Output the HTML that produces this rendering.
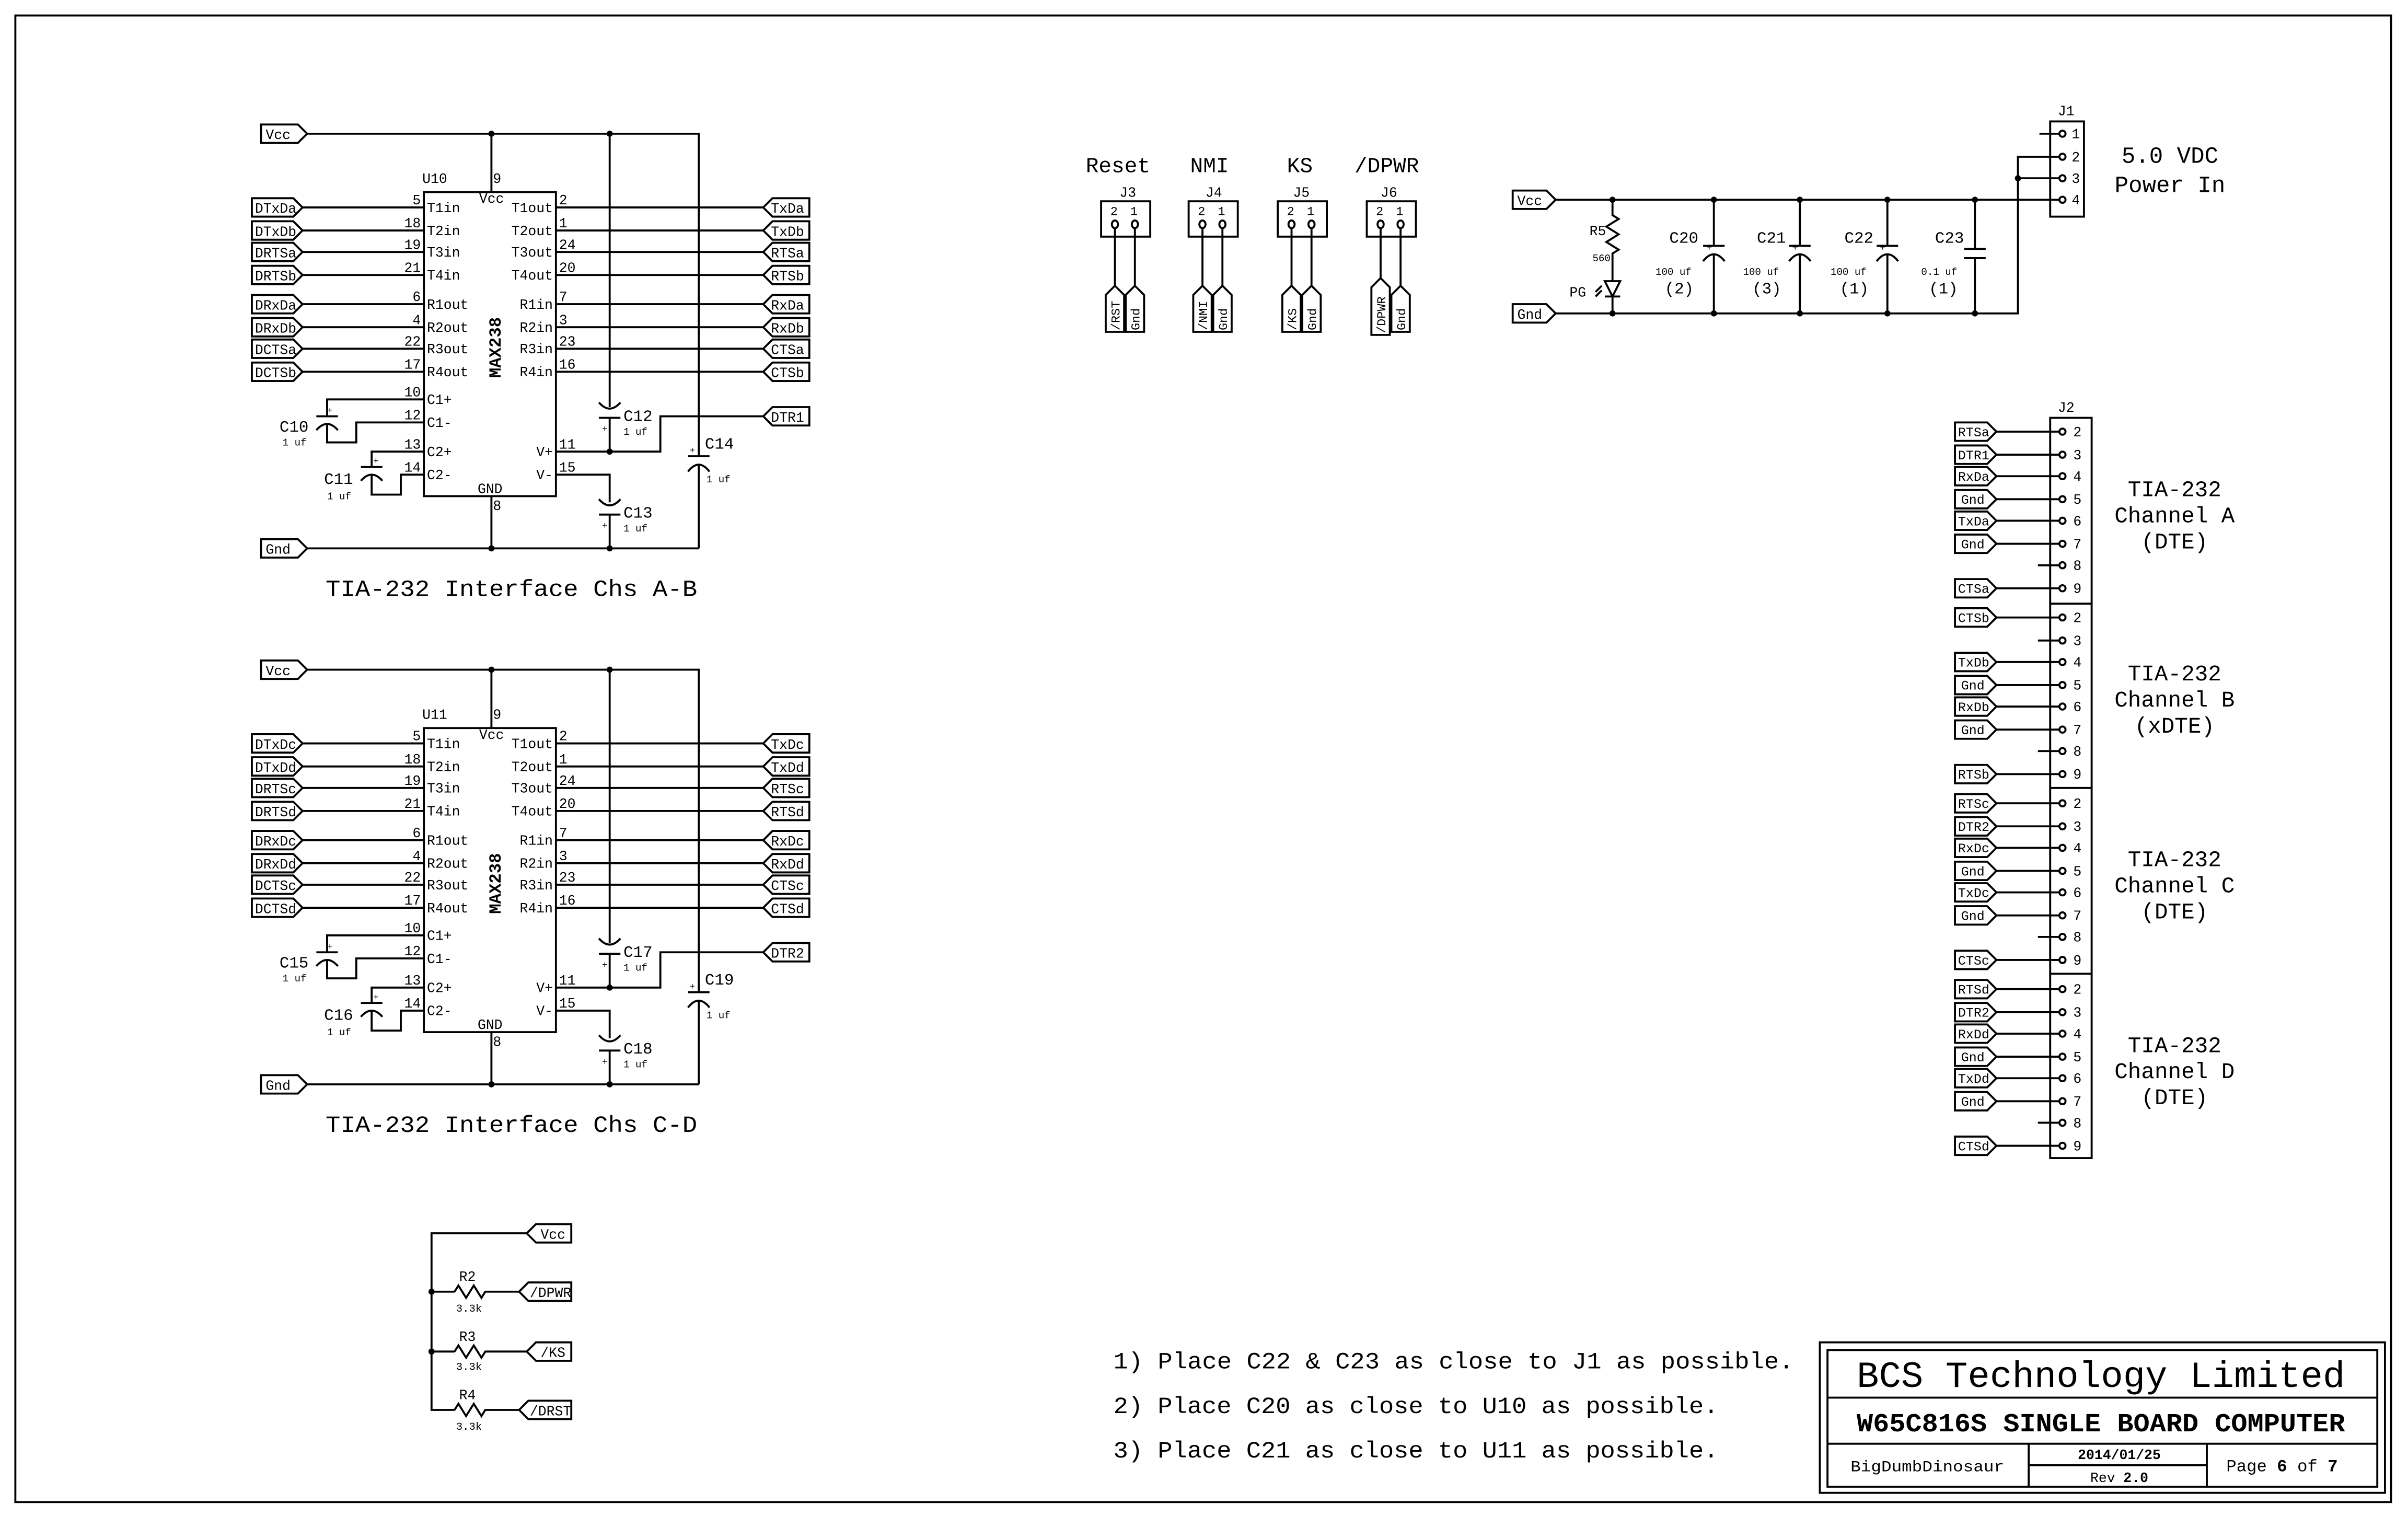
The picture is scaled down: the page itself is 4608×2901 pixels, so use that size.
<!DOCTYPE html>
<html><head><meta charset="utf-8"><style>
html,body{margin:0;padding:0;background:#fff}
svg{display:block}
.l{stroke:#000;stroke-width:1.3;fill:none}
text{font-family:"Liberation Mono",monospace;fill:#000}
</style></head><body>
<svg xmlns="http://www.w3.org/2000/svg" xmlns:xlink="http://www.w3.org/1999/xlink" width="4608" height="2901" viewBox="0 0 1568 987">
<rect width="1568" height="987" fill="#fff"/>
<rect class="l" x="10" y="10" width="1547" height="968"/>
<defs>
<g id="blk">
<path class="l" d="M200 87H455V297 M455 302V357 M200 357H455 M320 87V125 M320 323V357
M197 135H276 M197 150H276 M197 164H276 M197 179H276 M197 198H276 M197 213H276 M197 227H276 M197 242H276
M362 135H497 M362 150H497 M362 164H497 M362 179H497 M362 198H497 M362 213H497 M362 227H497 M362 242H497
M397 87V265 M397 272V294 M390 262Q397 270 404 262 M390 272H404
M362 294H430V271H497
M362 309H397V327 M390 325Q397 333 404 325 M390 335H404 M397 335V357
M448 297H462 M448 307Q455 298 462 307
M276 260H213V271 M206 271H220 M206 280Q213 272 220 280 M213 276V288H232V275H276
M276 294H242V304 M235 304H249 M235 313Q242 305 249 313 M242 309V322H261V309H276
M164 129H191L197 135L191 141H164Z M164 144H191L197 150L191 156H164Z M164 158H191L197 164L191 170H164Z M164 173H191L197 179L191 185H164Z
M164 192H191L197 198L191 204H164Z M164 207H191L197 213L191 219H164Z M164 221H191L197 227L191 233H164Z M164 236H191L197 242L191 248H164Z
M497 135L503 129H527V141H503Z M497 150L503 144H527V156H503Z M497 164L503 158H527V170H503Z M497 179L503 173H527V185H503Z
M497 198L503 192H527V204H503Z M497 213L503 207H527V219H503Z M497 227L503 221H527V233H503Z M497 242L503 236H527V248H503Z
M497 271L503 265H527V277H503Z
M170 81H194L200 87L194 93H170Z M170 351H194L200 357L194 363H170Z"/>
<rect class="l" x="276" y="125" width="86" height="198"/>
<g fill="#000"><circle cx="320" cy="87" r="2"/><circle cx="397" cy="87" r="2"/><circle cx="397" cy="294" r="2"/><circle cx="320" cy="357" r="2"/><circle cx="397" cy="357" r="2"/></g>
<g font-size="9">
<text x="173" y="90.5">Vcc</text><text x="173" y="360.5">Gnd</text>
<text x="321" y="119">9</text><text x="312" y="132">Vcc</text><text x="311" y="321">GND</text><text x="321" y="332">8</text>
<text x="278" y="138">T1in</text><text x="278" y="153">T2in</text><text x="278" y="167">T3in</text><text x="278" y="182">T4in</text>
<text x="278" y="201">R1out</text><text x="278" y="216">R2out</text><text x="278" y="230">R3out</text><text x="278" y="245">R4out</text>
<text x="278" y="263">C1+</text><text x="278" y="278">C1-</text><text x="278" y="297">C2+</text><text x="278" y="312">C2-</text>
<g text-anchor="end"><text x="360" y="138">T1out</text><text x="360" y="153">T2out</text><text x="360" y="167">T3out</text><text x="360" y="182">T4out</text>
<text x="360" y="201">R1in</text><text x="360" y="216">R2in</text><text x="360" y="230">R3in</text><text x="360" y="245">R4in</text>
<text x="360" y="297">V+</text><text x="360" y="312">V-</text>
<text x="274" y="133">5</text><text x="274" y="148">18</text><text x="274" y="162">19</text><text x="274" y="177">21</text>
<text x="274" y="196">6</text><text x="274" y="211">4</text><text x="274" y="225">22</text><text x="274" y="240">17</text>
<text x="274" y="258">10</text><text x="274" y="273">12</text><text x="274" y="292">13</text><text x="274" y="307">14</text></g>
<text x="364" y="133">2</text><text x="364" y="148">1</text><text x="364" y="162">24</text><text x="364" y="177">20</text>
<text x="364" y="196">7</text><text x="364" y="211">3</text><text x="364" y="225">23</text><text x="364" y="240">16</text>
<text x="364" y="292">11</text><text x="364" y="307">15</text>
</g>
<text transform="translate(326,246) rotate(-90)" font-size="11" font-weight="bold">MAX238</text>
<g font-size="6"><text x="392" y="281">+</text><text x="392" y="344">+</text><text x="449" y="295">+</text><text x="213" y="269">+</text><text x="243" y="302">+</text></g>
<g font-size="6.5"><text x="406" y="283">1 uf</text><text x="406" y="346">1 uf</text><text x="460" y="314">1 uf</text><text x="184" y="290">1 uf</text><text x="213" y="325">1 uf</text></g>
</g>
</defs>

<use xlink:href="#blk"/>
<use xlink:href="#blk" y="349"/>

<g font-size="9">
<text x="275" y="119">U10</text>
<text x="166" y="138.5">DTxDa</text><text x="166" y="153.5">DTxDb</text><text x="166" y="167.5">DRTSa</text><text x="166" y="182.5">DRTSb</text>
<text x="166" y="201.5">DRxDa</text><text x="166" y="216.5">DRxDb</text><text x="166" y="230.5">DCTSa</text><text x="166" y="245.5">DCTSb</text>
<text x="502" y="138.5">TxDa</text><text x="502" y="153.5">TxDb</text><text x="502" y="167.5">RTSa</text><text x="502" y="182.5">RTSb</text>
<text x="502" y="201.5">RxDa</text><text x="502" y="216.5">RxDb</text><text x="502" y="230.5">CTSa</text><text x="502" y="245.5">CTSb</text>
<text x="502" y="274.5">DTR1</text>
</g>
<g font-size="10.5"><text x="406" y="274">C12</text><text x="406" y="337">C13</text><text x="459" y="292">C14</text><text x="182" y="281">C10</text><text x="211" y="315">C11</text></g>
<text x="212" y="388" font-size="15" textLength="242" lengthAdjust="spacingAndGlyphs">TIA-232 Interface Chs A-B</text>

<g font-size="9">
<text x="275" y="468">U11</text>
<text x="166" y="487.5">DTxDc</text><text x="166" y="502.5">DTxDd</text><text x="166" y="516.5">DRTSc</text><text x="166" y="531.5">DRTSd</text>
<text x="166" y="550.5">DRxDc</text><text x="166" y="565.5">DRxDd</text><text x="166" y="579.5">DCTSc</text><text x="166" y="594.5">DCTSd</text>
<text x="502" y="487.5">TxDc</text><text x="502" y="502.5">TxDd</text><text x="502" y="516.5">RTSc</text><text x="502" y="531.5">RTSd</text>
<text x="502" y="550.5">RxDc</text><text x="502" y="565.5">RxDd</text><text x="502" y="579.5">CTSc</text><text x="502" y="594.5">CTSd</text>
<text x="502" y="623.5">DTR2</text>
</g>
<g font-size="10.5"><text x="406" y="623">C17</text><text x="406" y="686">C18</text><text x="459" y="641">C19</text><text x="182" y="630">C15</text><text x="211" y="664">C16</text></g>
<text x="212" y="737" font-size="15" textLength="242" lengthAdjust="spacingAndGlyphs">TIA-232 Interface Chs C-D</text>

<path class="l" d="M343 803L349 797H372V809H349Z M343 803H281V918H296 M281 841H296 M281 880H296
M296 841l2.5-4 5 8 5-8 5 8 2.5-4H338 M296 880l2.5-4 5 8 5-8 5 8 2.5-4H343 M296 918l2.5-4 5 8 5-8 5 8 2.5-4H338
M338 841L344 835H372V847H344Z M343 880L349 874H372V886H349Z M338 918L344 912H372V924H344Z"/>
<g fill="#000"><circle cx="281" cy="841" r="2"/><circle cx="281" cy="880" r="2"/></g>
<g font-size="9"><text x="352" y="806.5">Vcc</text><text x="345" y="844.5">/DPWR</text><text x="352" y="883.5">/KS</text><text x="345" y="921.5">/DRST</text>
<text x="299" y="834">R2</text><text x="299" y="873">R3</text><text x="299" y="911">R4</text></g>
<g font-size="7"><text x="297" y="854">3.3k</text><text x="297" y="892">3.3k</text><text x="297" y="931">3.3k</text></g>

<g font-size="14"><text x="707" y="112">Reset</text><text x="775" y="112">NMI</text><text x="838" y="112">KS</text><text x="882" y="112">/DPWR</text></g>
<g font-size="9"><text x="729" y="128">J3</text><text x="785" y="128">J4</text><text x="842" y="128">J5</text><text x="899" y="128">J6</text></g>
<path class="l" d="M717 131h32v23h-32Z M774 131h32v23h-32Z M832 131h32v23h-32Z M890 131h32v23h-32Z
M726 148V186 M739 148V186 M783 148V186 M796 148V186 M841 148V186 M854 148V186 M899 148V181 M912 148V186
M726 186l6 6v24h-12v-24Z M739 186l6 6v24h-12v-24Z M783 186l6 6v24h-12v-24Z M796 186l6 6v24h-12v-24Z
M841 186l6 6v24h-12v-24Z M854 186l6 6v24h-12v-24Z M899 181l6 6v31h-12v-31Z M912 186l6 6v24h-12v-24Z"/>
<g class="l" stroke-width="1"><ellipse cx="726" cy="146" rx="2" ry="2.5"/><ellipse cx="739" cy="146" rx="2" ry="2.5"/><ellipse cx="783" cy="146" rx="2" ry="2.5"/><ellipse cx="796" cy="146" rx="2" ry="2.5"/><ellipse cx="841" cy="146" rx="2" ry="2.5"/><ellipse cx="854" cy="146" rx="2" ry="2.5"/><ellipse cx="899" cy="146" rx="2" ry="2.5"/><ellipse cx="912" cy="146" rx="2" ry="2.5"/></g>
<g font-size="8"><text x="723" y="140">2</text><text x="736" y="140">1</text><text x="780" y="140">2</text><text x="793" y="140">1</text><text x="838" y="140">2</text><text x="851" y="140">1</text><text x="896" y="140">2</text><text x="909" y="140">1</text>
<text transform="translate(729,215) rotate(-90)">/RST</text><text transform="translate(742,215) rotate(-90)">Gnd</text>
<text transform="translate(786,215) rotate(-90)">/NMI</text><text transform="translate(799,215) rotate(-90)">Gnd</text>
<text transform="translate(844,215) rotate(-90)">/KS</text><text transform="translate(857,215) rotate(-90)">Gnd</text>
<text transform="translate(902,217) rotate(-90)">/DPWR</text><text transform="translate(915,215) rotate(-90)">Gnd</text></g>

<path class="l" d="M985 124H1007L1013 130L1007 136H985Z M985 198H1007L1013 204L1007 210H985Z
M1013 130H1341 M1013 204H1314V102H1341 M1314 116H1341 M1328 87H1341
M1050 130V140l4 2.5-8 5 8 5-8 5 8 5-4 2.5V183 M1050 193V204
M1045 183H1055L1050 193Z M1045 193H1055 M1043 186l-4 4 M1043 189l-4 4
M1116 130V160 M1109 160H1123 M1109 170Q1116 161 1123 170 M1116 165V204
M1172 130V160 M1165 160H1179 M1165 170Q1172 161 1179 170 M1172 165V204
M1229 130V160 M1222 160H1236 M1222 170Q1229 161 1236 170 M1229 165V204
M1286 130V162 M1279 162H1293 M1279 168H1293 M1286 168V204"/>
<rect class="l" x="1335" y="79" width="22" height="62"/>
<g class="l" stroke-width="1"><circle cx="1343" cy="87" r="2"/><circle cx="1343" cy="102" r="2"/><circle cx="1343" cy="116" r="2"/><circle cx="1343" cy="130" r="2"/></g>
<g fill="#000"><circle cx="1050" cy="130" r="2"/><circle cx="1116" cy="130" r="2"/><circle cx="1172" cy="130" r="2"/><circle cx="1229" cy="130" r="2"/><circle cx="1286" cy="130" r="2"/><circle cx="1050" cy="204" r="2"/><circle cx="1116" cy="204" r="2"/><circle cx="1172" cy="204" r="2"/><circle cx="1229" cy="204" r="2"/><circle cx="1286" cy="204" r="2"/><circle cx="1314" cy="116" r="2"/></g>
<g font-size="9"><text x="988" y="133.5">Vcc</text><text x="988" y="207.5">Gnd</text><text x="1340" y="75">J1</text>
<text x="1349" y="90">1</text><text x="1349" y="105">2</text><text x="1349" y="119">3</text><text x="1349" y="133">4</text>
<text x="1035" y="153">R5</text><text x="1022" y="193">PG</text></g>
<g font-size="10.5"><text x="1087" y="158">C20</text><text x="1144" y="158">C21</text><text x="1201" y="158">C22</text><text x="1260" y="158">C23</text>
<text x="1084" y="191">(2)</text><text x="1141" y="191">(3)</text><text x="1198" y="191">(1)</text><text x="1256" y="191">(1)</text></g>
<g font-size="6.5"><text x="1037" y="170">560</text><text x="1078" y="179">100 uf</text><text x="1135" y="179">100 uf</text><text x="1192" y="179">100 uf</text><text x="1251" y="179">0.1 uf</text>
<text x="1111" y="163">+</text><text x="1167" y="163">+</text><text x="1224" y="163">+</text></g>
<g font-size="15" text-anchor="middle"><text x="1413" y="106">5.0 VDC</text><text x="1413" y="125">Power In</text></g>

<rect class="l" x="1335" y="272" width="27" height="482"/>
<path class="l" d="M1335 393H1362 M1335 513H1362 M1335 634H1362
M1300 281H1341 M1300 296H1341 M1300 310H1341 M1300 325H1341 M1300 339H1341 M1300 354H1341 M1327 368H1341 M1300 383H1341
M1300 402H1341 M1327 417H1341 M1300 431H1341 M1300 446H1341 M1300 460H1341 M1300 475H1341 M1327 489H1341 M1300 504H1341
M1300 523H1341 M1300 538H1341 M1300 552H1341 M1300 567H1341 M1300 581H1341 M1300 596H1341 M1327 610H1341 M1300 625H1341
M1300 644H1341 M1300 659H1341 M1300 673H1341 M1300 688H1341 M1300 702H1341 M1300 717H1341 M1327 731H1341 M1300 746H1341
M1273 275H1294L1300 281L1294 287H1273Z M1273 290H1294L1300 296L1294 302H1273Z M1273 304H1294L1300 310L1294 316H1273Z M1273 319H1294L1300 325L1294 331H1273Z M1273 333H1294L1300 339L1294 345H1273Z M1273 348H1294L1300 354L1294 360H1273Z M1273 377H1294L1300 383L1294 389H1273Z
M1273 396H1294L1300 402L1294 408H1273Z M1273 425H1294L1300 431L1294 437H1273Z M1273 440H1294L1300 446L1294 452H1273Z M1273 454H1294L1300 460L1294 466H1273Z M1273 469H1294L1300 475L1294 481H1273Z M1273 498H1294L1300 504L1294 510H1273Z
M1273 517H1294L1300 523L1294 529H1273Z M1273 532H1294L1300 538L1294 544H1273Z M1273 546H1294L1300 552L1294 558H1273Z M1273 561H1294L1300 567L1294 573H1273Z M1273 575H1294L1300 581L1294 587H1273Z M1273 590H1294L1300 596L1294 602H1273Z M1273 619H1294L1300 625L1294 631H1273Z
M1273 638H1294L1300 644L1294 650H1273Z M1273 653H1294L1300 659L1294 665H1273Z M1273 667H1294L1300 673L1294 679H1273Z M1273 682H1294L1300 688L1294 694H1273Z M1273 696H1294L1300 702L1294 708H1273Z M1273 711H1294L1300 717L1294 723H1273Z M1273 740H1294L1300 746L1294 752H1273Z"/>
<g class="l" stroke-width="1">
<circle cx="1343" cy="281" r="2"/><circle cx="1343" cy="296" r="2"/><circle cx="1343" cy="310" r="2"/><circle cx="1343" cy="325" r="2"/><circle cx="1343" cy="339" r="2"/><circle cx="1343" cy="354" r="2"/><circle cx="1343" cy="368" r="2"/><circle cx="1343" cy="383" r="2"/>
<circle cx="1343" cy="402" r="2"/><circle cx="1343" cy="417" r="2"/><circle cx="1343" cy="431" r="2"/><circle cx="1343" cy="446" r="2"/><circle cx="1343" cy="460" r="2"/><circle cx="1343" cy="475" r="2"/><circle cx="1343" cy="489" r="2"/><circle cx="1343" cy="504" r="2"/>
<circle cx="1343" cy="523" r="2"/><circle cx="1343" cy="538" r="2"/><circle cx="1343" cy="552" r="2"/><circle cx="1343" cy="567" r="2"/><circle cx="1343" cy="581" r="2"/><circle cx="1343" cy="596" r="2"/><circle cx="1343" cy="610" r="2"/><circle cx="1343" cy="625" r="2"/>
<circle cx="1343" cy="644" r="2"/><circle cx="1343" cy="659" r="2"/><circle cx="1343" cy="673" r="2"/><circle cx="1343" cy="688" r="2"/><circle cx="1343" cy="702" r="2"/><circle cx="1343" cy="717" r="2"/><circle cx="1343" cy="731" r="2"/><circle cx="1343" cy="746" r="2"/></g>
<g font-size="9">
<text x="1340" y="268">J2</text>
<text x="1350" y="284">2</text><text x="1350" y="299">3</text><text x="1350" y="313">4</text><text x="1350" y="328">5</text><text x="1350" y="342">6</text><text x="1350" y="357">7</text><text x="1350" y="371">8</text><text x="1350" y="386">9</text>
<text x="1350" y="405">2</text><text x="1350" y="420">3</text><text x="1350" y="434">4</text><text x="1350" y="449">5</text><text x="1350" y="463">6</text><text x="1350" y="478">7</text><text x="1350" y="492">8</text><text x="1350" y="507">9</text>
<text x="1350" y="526">2</text><text x="1350" y="541">3</text><text x="1350" y="555">4</text><text x="1350" y="570">5</text><text x="1350" y="584">6</text><text x="1350" y="599">7</text><text x="1350" y="613">8</text><text x="1350" y="628">9</text>
<text x="1350" y="647">2</text><text x="1350" y="662">3</text><text x="1350" y="676">4</text><text x="1350" y="691">5</text><text x="1350" y="705">6</text><text x="1350" y="720">7</text><text x="1350" y="734">8</text><text x="1350" y="749">9</text>
</g>
<g font-size="8.5">
<text x="1275" y="284">RTSa</text><text x="1275" y="299">DTR1</text><text x="1275" y="313">RxDa</text><text x="1277" y="328">Gnd</text><text x="1275" y="342">TxDa</text><text x="1277" y="357">Gnd</text><text x="1275" y="386">CTSa</text>
<text x="1275" y="405">CTSb</text><text x="1275" y="434">TxDb</text><text x="1277" y="449">Gnd</text><text x="1275" y="463">RxDb</text><text x="1277" y="478">Gnd</text><text x="1275" y="507">RTSb</text>
<text x="1275" y="526">RTSc</text><text x="1275" y="541">DTR2</text><text x="1275" y="555">RxDc</text><text x="1277" y="570">Gnd</text><text x="1275" y="584">TxDc</text><text x="1277" y="599">Gnd</text><text x="1275" y="628">CTSc</text>
<text x="1275" y="647">RTSd</text><text x="1275" y="662">DTR2</text><text x="1275" y="676">RxDd</text><text x="1277" y="691">Gnd</text><text x="1275" y="705">TxDd</text><text x="1277" y="720">Gnd</text><text x="1275" y="749">CTSd</text>
</g>
<g font-size="14.5" text-anchor="middle">
<text x="1416" y="323">TIA-232</text><text x="1416" y="340">Channel A</text><text x="1416" y="357">(DTE)</text>
<text x="1416" y="443">TIA-232</text><text x="1416" y="460">Channel B</text><text x="1416" y="477">(xDTE)</text>
<text x="1416" y="564">TIA-232</text><text x="1416" y="581">Channel C</text><text x="1416" y="598">(DTE)</text>
<text x="1416" y="685">TIA-232</text><text x="1416" y="702">Channel D</text><text x="1416" y="719">(DTE)</text>
</g>

<g font-size="15">
<text x="725" y="891" textLength="443" lengthAdjust="spacingAndGlyphs">1) Place C22 &amp; C23 as close to J1 as possible.</text>
<text x="725" y="920" textLength="394" lengthAdjust="spacingAndGlyphs">2) Place C20 as close to U10 as possible.</text>
<text x="725" y="949" textLength="394" lengthAdjust="spacingAndGlyphs">3) Place C21 as close to U11 as possible.</text>
</g>

<rect class="l" x="1185" y="874" width="368" height="98"/>
<rect class="l" x="1190" y="879" width="358" height="89"/>
<path class="l" d="M1190 910H1548 M1190 940H1548 M1321 940V968 M1437 940V968 M1321 954H1437"/>
<text x="1368" y="903" font-size="24" text-anchor="middle" textLength="318" lengthAdjust="spacingAndGlyphs">BCS Technology Limited</text>
<text x="1368" y="932" font-size="17" font-weight="bold" text-anchor="middle" textLength="318" lengthAdjust="spacingAndGlyphs">W65C816S SINGLE BOARD COMPUTER</text>
<text x="1255" y="958" font-size="10" text-anchor="middle" textLength="100" lengthAdjust="spacingAndGlyphs">BigDumbDinosaur</text>
<text x="1380" y="950" font-size="9" font-weight="bold" text-anchor="middle">2014/01/25</text>
<text x="1380" y="965" font-size="9" text-anchor="middle">Rev <tspan font-weight="bold">2.0</tspan></text>
<text x="1486" y="958" font-size="11" text-anchor="middle">Page <tspan font-weight="bold">6</tspan> of <tspan font-weight="bold">7</tspan></text>
</svg>
</body></html>
